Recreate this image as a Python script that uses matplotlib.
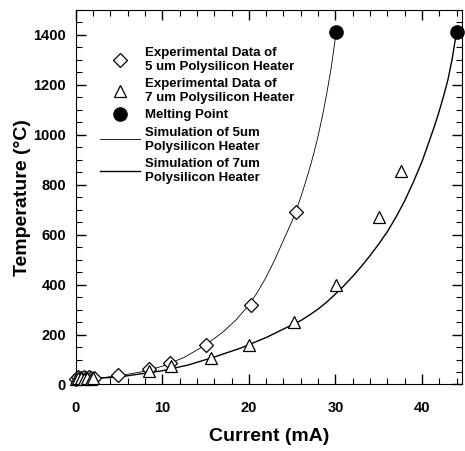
import matplotlib
matplotlib.use("Agg")
import matplotlib.pyplot as plt
from matplotlib.ticker import MultipleLocator

plt.rcParams['font.family'] = ['Liberation Sans', 'DejaVu Sans']
plt.rcParams['font.weight'] = 'bold'

# experimental data, 5 um heater
exp5_i = [0.0, 0.3, 0.6, 0.9, 1.2, 1.5, 1.8, 2.1, 4.9, 8.5, 10.9, 15.0, 20.3, 25.4]
exp5_t = [22, 28, 25, 30, 26, 29, 27, 25, 36, 63, 87, 158, 317, 689]

# experimental data, 7 um heater
exp7_i = [0.0, 0.3, 0.6, 0.9, 1.3, 1.7, 2.0, 8.5, 11.0, 15.6, 20.0, 25.2, 30.1, 35.0, 37.6]
exp7_t = [20, 24, 27, 23, 26, 22, 25, 55, 72, 105, 158, 252, 398, 670, 853]

# melting points
melt_i = [30.1, 44.0]
melt_t = [1413, 1413]

# simulation curves
sim5_i = [0, 2.5, 5, 7.5, 10, 12.5, 15, 17, 18.5, 20, 21, 22, 23, 24, 25, 25.5,
          26, 26.5, 27, 27.5, 28, 28.5, 29, 29.5, 30.1]
sim5_t = [20, 25, 35, 50, 73, 108, 158, 210, 258, 318, 370, 430, 500, 578, 655, 700,
          750, 805, 862, 925, 995, 1075, 1165, 1265, 1413]

sim7_i = [0, 5, 10, 13, 16, 19, 22, 24, 26, 27, 28, 29, 30, 31, 32, 33, 34, 35, 36, 37,
          38, 39, 40, 40.8, 41.5, 42, 42.5, 43, 43.5, 44.0]
sim7_t = [20, 30, 55, 78, 110, 145, 188, 222, 256, 278, 302, 330, 362, 396, 433, 473, 516, 562,
          612, 670, 735, 810, 892, 970, 1040, 1095, 1155, 1220, 1305, 1413]

fig = plt.figure(figsize=(4.65, 4.51), dpi=100)
ax = fig.add_axes([0.163, 0.1475, 0.83, 0.8305])

ax.plot(exp5_i, exp5_t, 'D', mfc='white', mec='black', ms=7, mew=0.9,
        label="Experimental Data of\n5 um Polysilicon Heater", zorder=3, clip_on=False)
ax.plot(exp7_i, exp7_t, '^', mfc='white', mec='black', ms=9, mew=0.9,
        label="Experimental Data of\n7 um Polysilicon Heater", zorder=3, clip_on=False)
ax.plot(melt_i, melt_t, 'o', color='black', ms=9.5,
        label="Melting Point", zorder=4, clip_on=False)
ax.plot(sim5_i, sim5_t, '-', color='black', lw=0.6,
        label="Simulation of 5um\nPolysilicon Heater")
ax.plot(sim7_i, sim7_t, '-', color='black', lw=1.0,
        label="Simulation of 7um\nPolysilicon Heater")

ax.set_xlim(0, 44.6)
ax.set_ylim(0, 1500)
ax.xaxis.set_major_locator(MultipleLocator(10))
ax.xaxis.set_minor_locator(MultipleLocator(2))
ax.yaxis.set_major_locator(MultipleLocator(200))
ax.yaxis.set_minor_locator(MultipleLocator(50))
ax.tick_params(which='both', direction='in', top=True, right=True, labelsize=10.5)
ax.tick_params(which='major', length=7, width=1)
ax.tick_params(which='minor', length=4, width=0.8)
ax.tick_params(axis='x', pad=12)
ax.tick_params(axis='y', pad=7)
for lab in ax.get_xticklabels() + ax.get_yticklabels():
    lab.set_fontweight('bold')

ax.set_xlabel("Current (mA)", fontsize=14, fontweight='bold', labelpad=9)
ax.set_ylabel("Temperature (°C)", fontsize=14, fontweight='bold', labelpad=2)

ax.legend(loc='upper left', bbox_to_anchor=(0.05, 0.915), frameon=False,
          prop={'size': 9.5, 'weight': 'bold'}, handlelength=3.0,
          handletextpad=0.4, labelspacing=0.4, borderaxespad=0)

plt.savefig("out.png", dpi=100)
